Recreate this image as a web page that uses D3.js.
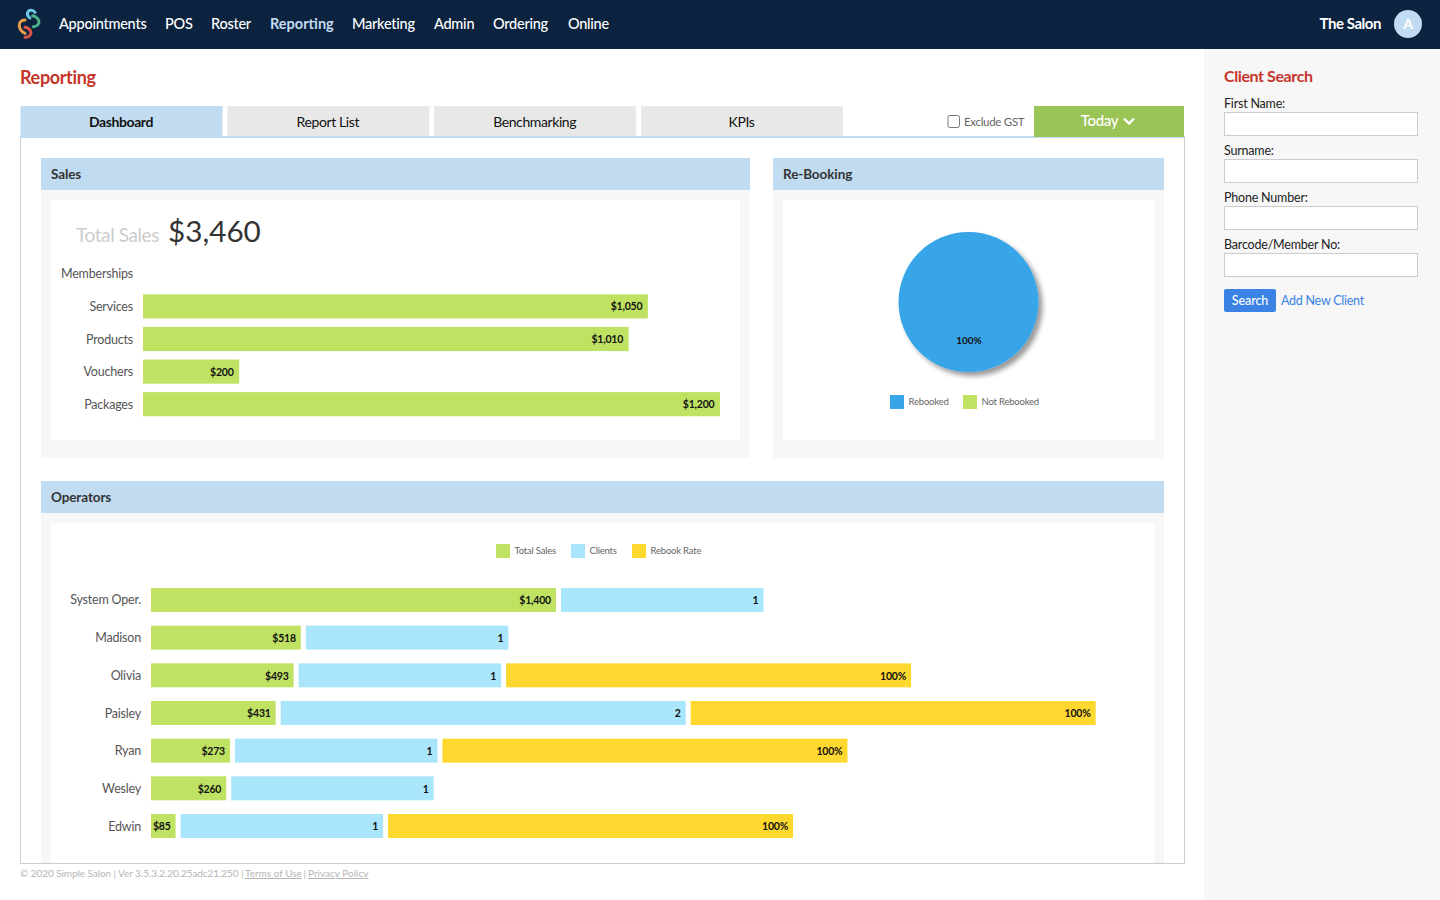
<!DOCTYPE html>
<html>
<head>
<meta charset="utf-8">
<title>Reporting</title>
<script src="https://cdn.jsdelivr.net/npm/d3@7"></script>
<style>
html, body { margin: 0; padding: 0; background: #fff; overflow: hidden; }
svg { display: block; font-family: Lato, sans-serif; }
.axis text { font-family: Lato, sans-serif; fill: #555; font-size: 12.5px; letter-spacing: -0.2px; }
.axis path, .axis line { display: none; }
</style>
</head>
<body>
<div id="page"></div>
<script>
var navItems = ["Appointments", "POS", "Roster", "Reporting", "Marketing", "Admin", "Ordering", "Online"];
var navX = [59, 165, 211, 270, 352, 434, 493, 568];
var tabs = ["Dashboard", "Report List", "Benchmarking", "KPIs"];
var searchFields = ["First Name:", "Surname:", "Phone Number:", "Barcode/Member No:"];

var salesCategories = ["Memberships", "Services", "Products", "Vouchers", "Packages"];
var salesValues = [0, 1050, 1010, 200, 1200];

var rebookLabels = ["Rebooked", "Not Rebooked"];
var rebookValues = [100, 0];

var operators = ["System Oper.", "Madison", "Olivia", "Paisley", "Ryan", "Wesley", "Edwin"];
var operatorSales = [1400, 518, 493, 431, 273, 260, 85];
var operatorClients = [1, 1, 1, 2, 1, 1, 1];
var operatorRebook = [0, 0, 100, 100, 100, 0, 100];
var operatorLegend = ["Total Sales", "Clients", "Rebook Rate"];

var green = "#bfe263", sky = "#a9e5fb", yellow = "#fed82f", blue = "#38a5e9";
var header = "#c1dcf0", panel = "#f7f7f7", red = "#c5352a";

var svg = d3.select("#page").append("svg").attr("width", 1440).attr("height", 900);

var box = function(x, y, w, h, fill, stroke){
	return svg.append("rect").attr("x", x).attr("y", y).attr("width", w).attr("height", h)
	.attr("fill", fill).attr("stroke", stroke || "none");
}

var label = function(parent, x, y, str, size, color, weight, anchor, spacing){
	return parent.append("text").attr("x", x).attr("y", y).text(str)
	.attr("font-size", size).attr("fill", color)
	.attr("font-weight", weight || 400)
	.attr("text-anchor", anchor || "start")
	.attr("letter-spacing", spacing || 0);
}

//top bar
box(0, 0, 1440, 49, "#0c2340");
svg.selectAll("text.nav")
.data(navItems)
.enter()
.append("text")
.attr("class", "nav")
.attr("x", function(d, i){return navX[i];})
.attr("y", 29)
.attr("font-size", 14.5)
.attr("letter-spacing", function(d){return d == "Reporting" ? 0 : -0.25;})
.attr("font-weight", function(d){return d == "Reporting" ? 700 : 500;})
.attr("fill", function(d){return d == "Reporting" ? header : "#fff";})
.text(function(d){return d;});

//logo, four hooks
var logo = svg.append("g").attr("fill", "none").attr("stroke-width", 3).attr("stroke-linecap", "round");
logo.append("path").attr("d", "M35 12.3 C33 9.5 28.5 9.5 27.5 13 C27 15.5 28.5 17 30 18").attr("stroke", "#6cc5e0");
logo.append("path").attr("d", "M32.7 15.7 C36 16.5 39 19 39 22 C39 24.5 36.5 26.5 33.3 26.7").attr("stroke", "#4fb38a");
logo.append("path").attr("d", "M25 20 C21 20 18.8 23 19.3 26 C19.8 29.5 22 32 25 33.3").attr("stroke", "#e8a04a");
logo.append("path").attr("d", "M25 27.3 C28 27.5 31 30 31 32.5 C31 35.5 28 37.5 25 37.3").attr("stroke", "#d9534a");

label(svg, 1381, 29, "The Salon", 15, "#fff", 700, "end", -0.45);
svg.append("circle").attr("cx", 1408).attr("cy", 24).attr("r", 14).attr("fill", header);
label(svg, 1408, 29, "A", 14, "#fff", 700, "middle");

//sidebar
box(1204, 49, 236, 851, panel);
label(svg, 1224, 82, "Client Search", 16, red, 700, "start", -0.4);
var fields = svg.selectAll("g.field")
.data(searchFields)
.enter()
.append("g")
.attr("class", "field")
.attr("transform", function(d, i){return "translate(1224," + (108 + i * 47) + ")";});
fields.append("text").attr("font-size", 12.5).attr("letter-spacing", -0.2).attr("fill", "#222").text(function(d){return d;});
fields.append("rect").attr("x", 0.5).attr("y", 4.5).attr("width", 193).attr("height", 23)
.attr("fill", "#fff").attr("stroke", "#ccc");
svg.append("rect").attr("x", 1224).attr("y", 289).attr("width", 52).attr("height", 23).attr("rx", 2).attr("fill", "#3a82e4");
label(svg, 1250, 305, "Search", 12.5, "#fff", 500, "middle", -0.1);
label(svg, 1281, 305, "Add New Client", 12.5, "#3a82e4", 400, "start", -0.25);

//page title and tabs
label(svg, 20, 84, "Reporting", 18, red, 700, "start", -0.35);
box(20.5, 137.5, 1164, 726, "#fff", "#ccc");
box(20, 136, 1165, 2, header);
var tabScale = d3.scalePoint().domain(tabs).range([20.5, 641]);
svg.selectAll("rect.tab")
.data(tabs)
.enter()
.append("rect")
.attr("class", "tab")
.attr("x", function(d){return tabScale(d);})
.attr("y", 106)
.attr("width", 202)
.attr("height", 30)
.attr("fill", function(d, i){return i == 0 ? header : "#e8e8e8";});
svg.selectAll("text.tab")
.data(tabs)
.enter()
.append("text")
.attr("class", "tab")
.attr("x", function(d){return tabScale(d) + 100.5;})
.attr("y", 127)
.attr("text-anchor", "middle")
.attr("font-size", 14)
.attr("letter-spacing", -0.4)
.attr("font-weight", function(d, i){return i == 0 ? 700 : 400;})
.attr("fill", "#111")
.text(function(d){return d;});

svg.append("rect").attr("x", 948).attr("y", 115.5).attr("width", 11.5).attr("height", 12).attr("rx", 2)
.attr("fill", "#fff").attr("stroke", "#777");
label(svg, 964, 126, "Exclude GST", 11.5, "#666", 400, "start", -0.3);
box(1034, 106, 150, 31, "#9bc457");
label(svg, 1099.5, 126, "Today", 15, "#fff", 500, "middle", -0.3);
svg.append("path").attr("d", "M1124 118.5 L1129 123.5 L1134 118.5").attr("fill", "none")
.attr("stroke", "#fff").attr("stroke-width", 2.4);

//panels
var drawPanel = function(x, y, w, h, title){
	box(x, y, w, h, panel);
	box(x, y, w, 32, header);
	box(x + 10, y + 42, w - 20, h - 42 - (y > 400 ? 0 : 18), "#fff");
	label(svg, x + 10, y + 21, title, 13.5, "#333", 700, "start", -0.1);
}
drawPanel(41, 158, 709, 300, "Sales");
drawPanel(773, 158, 391, 300, "Re-Booking");
drawPanel(41, 481, 1123, 382, "Operators");

//sales bars
label(svg, 76, 242, "Total Sales", 19, "#ccc", 400, "start", -0.4);
label(svg, 168, 242, "$3,460", 29.7, "#333");

var salesX = d3.scaleLinear().domain([0, 1200]).range([143, 720]);
var salesY = d3.scaleBand().domain(salesCategories).range([257.5, 420.5]).paddingInner(0.26).paddingOuter(0.13);

svg.append("g").attr("class", "axis")
.attr("transform", "translate(143,0.5)")
.call(d3.axisLeft(salesY).tickSize(0).tickPadding(10));

var salesBars = svg.selectAll("g.sale")
.data(salesCategories.map(function(d, i){return {name: d, value: salesValues[i]};}).filter(function(d){return d.value > 0;}))
.enter()
.append("g")
.attr("class", "sale");
salesBars.append("rect")
.attr("x", salesX(0))
.attr("y", function(d){return salesY(d.name);})
.attr("width", function(d){return salesX(d.value) - salesX(0);})
.attr("height", salesY.bandwidth())
.attr("fill", green);
salesBars.append("text")
.attr("x", function(d){return salesX(d.value) - 5.5;})
.attr("y", function(d){return salesY(d.name) + salesY.bandwidth() / 2 + 4;})
.attr("text-anchor", "end")
.attr("font-size", 10.5)
.attr("letter-spacing", -0.2)
.attr("font-weight", 700)
.attr("fill", "#111")
.text(function(d){return "$" + d3.format(",")(d.value);});

//re-booking pie
var defs = svg.append("defs");
var shadow = defs.append("filter").attr("id", "pieShadow").attr("x", "-20%").attr("y", "-20%").attr("width", "140%").attr("height", "140%");
shadow.append("feDropShadow").attr("dx", 4).attr("dy", 4).attr("stdDeviation", 2.5).attr("flood-color", "#000").attr("flood-opacity", 0.4);

var pieColor = d3.scaleOrdinal().domain(rebookLabels).range([blue, green]);
var pie = d3.pie().sort(null).value(function(d, i){return d;});
var arc = d3.arc().innerRadius(0).outerRadius(70);
var pieGroup = svg.append("g").attr("transform", "translate(968.5,302)").attr("filter", "url(#pieShadow)");
pieGroup.selectAll("path")
.data(pie(rebookValues))
.enter()
.append("path")
.attr("d", arc)
.attr("fill", function(d, i){return pieColor(rebookLabels[i]);});
label(svg, 969, 344, rebookValues[0] + "%", 10, "#111", 700, "middle");

//legends
var drawLegend = function(names, colors, xs, y){
	var items = svg.selectAll(null)
	.data(names)
	.enter()
	.append("g")
	.attr("transform", function(d, i){return "translate(" + xs[i] + "," + y + ")";});
	items.append("rect").attr("width", 14).attr("height", 14).attr("fill", function(d, i){return colors[i];});
	items.append("text").attr("x", 18.5).attr("y", 10).attr("font-size", 9.5).attr("letter-spacing", -0.2)
	.attr("fill", "#666").text(function(d){return d;});
}
drawLegend(rebookLabels, [blue, green], [890, 963], 395);
drawLegend(operatorLegend, [green, sky, yellow], [496, 571, 632], 544);

//operators, each series has its own scale and they are laid end to end
var opSalesW = d3.scaleLinear().domain([0, 1400]).range([0, 405]);
var opClientsW = d3.scaleLinear().domain([0, 2]).range([0, 405]);
var opRebookW = d3.scaleLinear().domain([0, 100]).range([0, 405]);
var opY = d3.scaleBand().domain(operators).range([588, 838]).paddingInner(0.363).paddingOuter(0);

svg.append("g").attr("class", "axis")
.attr("transform", "translate(151,0.5)")
.call(d3.axisLeft(opY).tickSize(0).tickPadding(10));

var rows = svg.selectAll("g.operator")
.data(operators)
.enter()
.append("g")
.attr("class", "operator")
.attr("transform", function(d){return "translate(151," + opY(d) + ")";});

var drawSegment = function(row, x, w, color, str){
	row.append("rect").attr("x", x).attr("width", w).attr("height", opY.bandwidth()).attr("fill", color);
	row.append("text").attr("x", x + w - 5).attr("y", opY.bandwidth() / 2 + 4.5)
	.attr("text-anchor", "end").attr("font-size", 10.5).attr("letter-spacing", -0.2)
	.attr("font-weight", 700).attr("fill", "#111").text(str);
}

rows.each(function(d, i){
	var row = d3.select(this);
	var x = 0;
	var w = opSalesW(operatorSales[i]);
	drawSegment(row, x, w, green, "$" + d3.format(",")(operatorSales[i]));
	x += w + 5;
	w = opClientsW(operatorClients[i]);
	drawSegment(row, x, w, sky, operatorClients[i]);
	x += w + 5;
	if(operatorRebook[i] > 0){
		drawSegment(row, x, opRebookW(operatorRebook[i]), yellow, operatorRebook[i] + "%");
	}
});

//footer
label(svg, 20, 877, "© 2020 Simple Salon | Ver 3.5.3.2.20.25adc21.250 |", 10, "#b5b5b5", 400, "start", -0.07);
label(svg, 245, 877, "Terms of Use", 10, "#b5b5b5").attr("text-decoration", "underline");
label(svg, 303.5, 877, "|", 10, "#b5b5b5");
label(svg, 308, 877, "Privacy Policy", 10, "#b5b5b5").attr("text-decoration", "underline");
</script>
</body>
</html>
